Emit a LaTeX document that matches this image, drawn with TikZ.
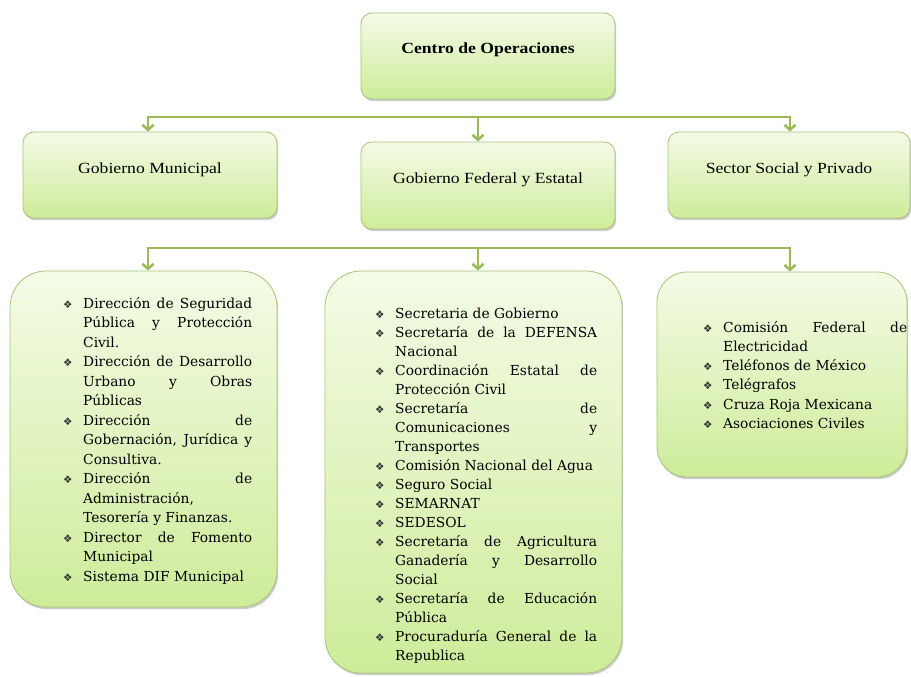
\documentclass[tikz,border=0pt]{standalone}
\usepackage{fontspec}
\newfontfamily\headfam{Liberation Serif}[FakeStretch=1.14]
\newfontfamily\listfam{DejaVu Serif}
\newfontfamily\bulfam{DejaVu Sans}
\usepackage{tikz}
\usetikzlibrary{arrows.meta,shadows}

\definecolor{olivegr}{RGB}{155,187,89}
\definecolor{boxedge}{RGB}{168,196,120}
\definecolor{boxtop}{RGB}{244,251,230}
\definecolor{boxbot}{RGB}{206,236,154}

\newcommand{\itm}{\par\hangindent=20pt\hangafter=1\noindent\makebox[20pt][l]{\bulfam\fontsize{10.5}{9}\selectfont\color{black!80}❖}}
\newcommand{\listsize}[1]{\listfam\fontsize{13.8}{#1}\selectfont\tolerance=10000\hyphenpenalty=10000\relax}

\begin{document}
\begin{tikzpicture}[x=1pt,y=-1pt,
    box/.style={draw=boxedge, line width=0.8pt, top color=boxtop, bottom color=boxbot,
      drop shadow={shadow xshift=1.2pt, shadow yshift=-2.2pt, fill=black!45, opacity=0.45},
      rounded corners=11pt, inner sep=0pt},
    headbox/.style={box, text height=11pt, text depth=15pt, font=\headfam\fontsize{15.5}{18}\selectfont},
    listbox/.style={box, rounded corners=36pt},
    listtext/.style={anchor=north west, inner sep=0pt, align=justify},
    bus/.style={draw=olivegr, line width=2.6pt, line cap=rect},
    feed/.style={olivegr, line width=2.6pt, -{Straight Barb[length=5pt,width=11pt]}}]
  \useasboundingbox (0,0) rectangle (911,677);

  %%heads
  \node[headbox, minimum width=254, minimum height=86] (cen) at (488,56) {\bfseries Centro de Operaciones};
  \node[headbox, minimum width=254, minimum height=86] (gm) at (150,175) {Gobierno Municipal};
  \node[headbox, minimum width=254, minimum height=87] (gf) at (488,185.5) {Gobierno Federal y Estatal};
  \node[headbox, minimum width=242, minimum height=86] (ss) at (789,175) {Sector Social y Privado};

  %%lists
  \node[listbox, minimum width=267, minimum height=336] (lm) at (143.5,439) {};
  \node[listbox, minimum width=297, minimum height=402] (lf) at (473.5,472) {};
  \node[listbox, rounded corners=30pt, minimum width=250, minimum height=205] (ls) at (782,374.5) {};

  \node[listtext, text width=189, font=\listsize{19.5}] (lmt) at (63,288.4) {%
    \itm\strut Dirección de Seguridad\linebreak Pública y Protección\linebreak Civil.
    \itm Dirección de Desarrollo\linebreak Urbano y Obras\linebreak Públicas
    \itm Dirección de\linebreak Gobernación, Jurídica y\linebreak Consultiva.
    \itm Dirección de\linebreak Administración,\linebreak Tesorería y Finanzas.
    \itm Director de Fomento\linebreak Municipal
    \itm Sistema DIF Municipal\par};
  \node[listtext, text width=222, font=\listsize{19}] (lft) at (375,299.7) {%
    \itm\strut Secretaria de Gobierno
    \itm Secretaría de la DEFENSA\linebreak Nacional
    \itm Coordinación Estatal de\linebreak Protección Civil
    \itm Secretaría de\linebreak Comunicaciones y\linebreak Transportes
    \itm Comisión Nacional del Agua
    \itm Seguro Social
    \itm SEMARNAT
    \itm SEDESOL
    \itm Secretaría de Agricultura\linebreak Ganadería y Desarrollo\linebreak Social
    \itm Secretaría de Educación\linebreak Pública
    \itm Procuraduría General de la\linebreak Republica\par};
  \node[listtext, text width=204, font=\listsize{19.3}] (lst) at (703,312.5) {%
    \itm\strut Comisión Federal de\linebreak Electricidad
    \itm Teléfonos de México
    \itm Telégrafos
    \itm Cruza Roja Mexicana
    \itm Asociaciones Civiles\par};

  %%upper bus
  \coordinate (u1) at (148,117);
  \coordinate (u2) at (478,117);
  \coordinate (u3) at (790,117);
  \draw[bus] (u1) -- (u3);
  \draw[feed] (u1) -- (u1 |- gm.north);
  \draw[feed] (u2) -- (u2 |- gf.north);
  \draw[feed] (u3) -- (u3 |- ss.north);

  %%lower bus
  \coordinate (d1) at (148,248);
  \coordinate (d2) at (478,248);
  \coordinate (d3) at (790,248);
  \draw[bus] (d1) -- (d3);
  \draw[feed] (d1) -- (d1 |- lm.north);
  \draw[feed] (d2) -- (d2 |- lf.north);
  \draw[feed] (d3) -- (d3 |- ls.north);
\end{tikzpicture}
\end{document}
